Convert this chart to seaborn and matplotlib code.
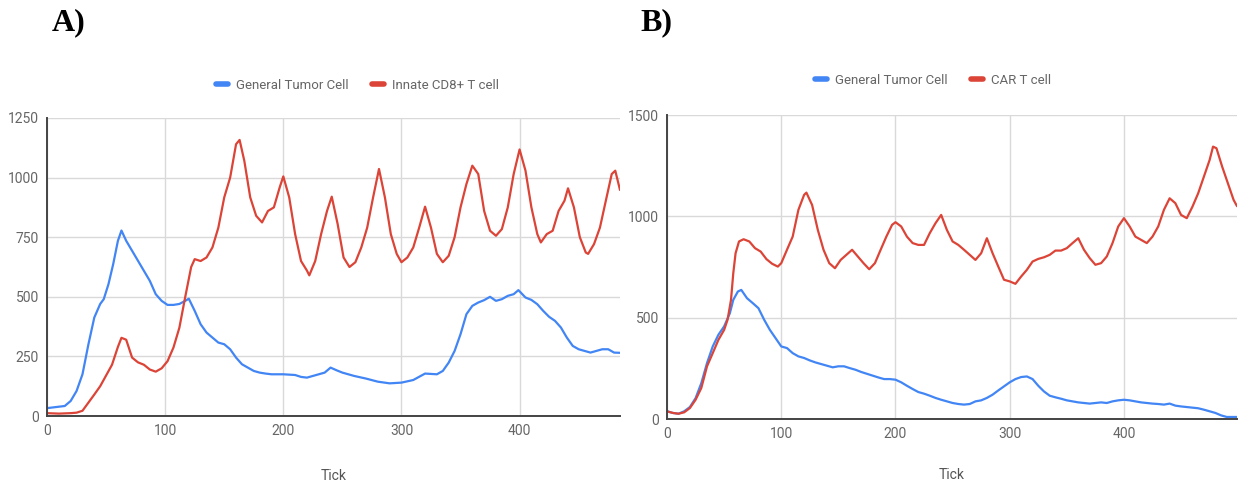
import pandas as pd
import matplotlib
matplotlib.use("Agg")
import matplotlib.pyplot as plt
import seaborn as sns

# -------------------------------
# DATA
# -------------------------------
# Panel A: General Tumor Cell vs Innate CD8+ T cell
a_tumor_tick = [0, 15, 20, 25, 30, 35, 40, 45, 48, 52, 56, 60, 63, 67, 72, 77, 82, 87,
                92, 97, 102, 107, 112, 117, 120, 125, 130, 135, 140, 145, 150, 155,
                160, 165, 170, 175, 180, 185, 190, 200, 210, 215, 220, 225, 230, 235,
                240, 245, 250, 260, 270, 280, 290, 300, 310, 320, 330, 335, 340, 345,
                350, 355, 360, 365, 370, 375, 380, 385, 390, 395, 399, 405, 410, 415,
                420, 425, 430, 435, 440, 445, 450, 455, 460, 465, 470, 475, 480, 485]
a_tumor = [33, 42, 63, 105, 175, 300, 413, 470, 490, 553, 637, 735, 778, 735, 693, 651,
           609, 567, 511, 483, 466, 466, 470, 483, 492, 441, 385, 350, 329, 308, 301, 280,
           245, 217, 203, 189, 182, 178, 175, 175, 172, 164, 161, 168, 175, 182, 203, 192,
           182, 168, 157, 144, 137, 140, 151, 178, 175, 189, 224, 273, 343, 427, 462, 476,
           486, 500, 483, 490, 504, 511, 528, 497, 487, 469, 441, 416, 399, 371, 329, 294,
           280, 273, 266, 273, 280, 280, 266, 265]

a_tcell_tick = [0, 10, 20, 25, 30, 40, 45, 50, 55, 60, 63, 67, 72, 77, 82, 87, 92, 97,
                102, 107, 112, 117, 122, 125, 130, 135, 140, 145, 150, 155, 160, 163,
                167, 172, 177, 182, 187, 192, 197, 200, 205, 210, 215, 220, 222, 227,
                232, 237, 241, 246, 251, 256, 261, 266, 271, 276, 281, 286, 291, 296,
                300, 305, 310, 315, 320, 325, 330, 335, 340, 345, 350, 355, 360, 365,
                370, 375, 380, 385, 390, 395, 400, 405, 410, 415, 418, 423, 428, 433,
                438, 441, 446, 451, 456, 458, 463, 468, 473, 478, 481, 485]
a_tcell = [12, 10, 12, 14, 22, 90, 125, 170, 215, 290, 328, 320, 245, 225, 215, 195, 186,
           200, 230, 287, 370, 500, 625, 658, 650, 665, 707, 790, 917, 1000, 1140, 1158,
           1070, 917, 840, 812, 860, 875, 960, 1005, 917, 763, 650, 610, 590, 650, 763,
           860, 920, 805, 665, 625, 645, 707, 790, 917, 1036, 917, 763, 680, 645, 665, 707,
           790, 878, 790, 680, 645, 672, 750, 875, 973, 1050, 1015, 860, 777, 756, 784, 875,
           1015, 1118, 1029, 875, 763, 728, 763, 777, 860, 903, 955, 875, 750, 686, 680,
           721, 790, 903, 1015, 1029, 948]

# Panel B: General Tumor Cell vs CAR T cell
b_tumor_tick = [0, 5, 10, 15, 20, 25, 30, 35, 40, 45, 50, 55, 58, 62, 65, 70, 75, 80, 85,
                90, 95, 100, 105, 110, 115, 120, 125, 130, 135, 140, 145, 150, 155, 160,
                165, 170, 175, 180, 185, 190, 195, 200, 205, 210, 215, 220, 225, 230,
                235, 240, 245, 250, 255, 260, 265, 270, 275, 280, 285, 290, 295, 300,
                305, 310, 315, 320, 325, 330, 335, 340, 345, 350, 355, 360, 365, 370,
                375, 380, 385, 390, 395, 400, 405, 410, 415, 420, 425, 430, 435, 440,
                445, 450, 455, 460, 465, 470, 475, 480, 485, 490, 495, 499]
b_tumor = [38, 30, 26, 38, 59, 103, 177, 276, 358, 416, 457, 522, 588, 629, 637, 596, 572,
           547, 490, 440, 399, 358, 350, 325, 309, 301, 289, 279, 271, 263, 255, 260, 260,
           251, 243, 232, 223, 214, 205, 197, 197, 194, 181, 164, 148, 133, 125, 115, 104,
           95, 87, 79, 74, 71, 74, 87, 92, 104, 120, 141, 161, 181, 197, 207, 210, 197, 164,
           136, 115, 107, 100, 92, 87, 82, 79, 76, 79, 82, 79, 87, 92, 95, 92, 87, 82, 79,
           76, 74, 71, 76, 66, 62, 59, 56, 53, 46, 38, 30, 18, 10, 10, 10]

b_tcell_tick = [0, 5, 10, 15, 20, 25, 30, 35, 40, 45, 50, 53, 56, 58, 60, 63, 67, 72, 77,
                82, 87, 92, 97, 100, 105, 110, 115, 120, 122, 127, 132, 137, 142, 147,
                152, 157, 162, 167, 172, 177, 182, 187, 192, 197, 200, 205, 210, 215,
                220, 225, 230, 235, 240, 245, 250, 255, 260, 265, 270, 275, 280, 285,
                290, 295, 300, 305, 310, 315, 320, 325, 330, 335, 340, 345, 350, 355,
                360, 365, 370, 375, 380, 385, 390, 395, 400, 405, 410, 415, 420, 425,
                430, 435, 440, 445, 450, 455, 460, 465, 470, 475, 478, 481, 486, 491,
                496, 499]
b_tcell = [38, 30, 26, 33, 54, 95, 153, 260, 325, 391, 440, 490, 588, 720, 818, 876, 887,
           876, 843, 826, 789, 766, 752, 769, 835, 900, 1032, 1106, 1117, 1056, 933, 835,
           769, 744, 785, 810, 835, 802, 769, 739, 769, 835, 900, 958, 971, 950, 900, 868,
           859, 859, 917, 966, 1007, 933, 876, 859, 835, 810, 785, 818, 892, 818, 752, 687,
           679, 667, 703, 736, 777, 790, 798, 810, 831, 831, 843, 868, 892, 835, 794, 761,
           769, 802, 868, 950, 991, 950, 900, 884, 868, 900, 950, 1032, 1089, 1065, 1007,
           991, 1048, 1114, 1196, 1278, 1344, 1336, 1245, 1163, 1081, 1050]

TUMOR_COLOR = "#4285F4"
TCELL_COLOR = "#DB4437"

# -------------------------------
# BUILD TABLES
# -------------------------------
df_a = pd.concat([
    pd.DataFrame({"Tick": a_tumor_tick, "Count": a_tumor, "Cell": "General Tumor Cell"}),
    pd.DataFrame({"Tick": a_tcell_tick, "Count": a_tcell, "Cell": "Innate CD8+ T cell"}),
])
df_b = pd.concat([
    pd.DataFrame({"Tick": b_tumor_tick, "Count": b_tumor, "Cell": "General Tumor Cell"}),
    pd.DataFrame({"Tick": b_tcell_tick, "Count": b_tcell, "Cell": "CAR T cell"}),
])

sns.set_theme(style="whitegrid")
plt.rcParams["font.family"] = ["Roboto", "DejaVu Sans"]

fig = plt.figure(figsize=(12.41, 4.83), dpi=100)
ax_a = fig.add_axes([0.0379, 0.1387, 0.4617, 0.6170])
ax_b = fig.add_axes([0.5375, 0.1325, 0.4593, 0.6294])

# axis, data, hue order, xmax, ymax, ystep, tag, tag x, legend x, legend y, xlabel pad
panels = [
    (ax_a, df_a, ["General Tumor Cell", "Innate CD8+ T cell"], 485, 1250, 250, "A)", 0.042, 0.288, 0.824, 22),
    (ax_b, df_b, ["General Tumor Cell", "CAR T cell"], 499, 1500, 500, "B)", 0.516, 0.752, 0.834, 19),
]

for ax, data, order, xmax, ymax, ystep, tag, tag_x, leg_x, leg_y, xpad in panels:
    sns.lineplot(
        data=data, x="Tick", y="Count", hue="Cell", hue_order=order,
        palette=[TUMOR_COLOR, TCELL_COLOR], linewidth=1.6, ax=ax,
    )
    ax.set_xlim(0, xmax)
    ax.set_ylim(0, ymax)
    ax.set_xticks([0, 100, 200, 300, 400])
    ax.set_yticks(range(0, ymax + 1, ystep))
    ax.grid(True, color="#d9d9d9", linewidth=1.0)
    ax.tick_params(length=0, labelsize=10, labelcolor="#666666", pad=6)
    for s in ["top", "right"]:
        ax.spines[s].set_visible(False)
    for s in ["left", "bottom"]:
        ax.spines[s].set_color("#444444")
        ax.spines[s].set_linewidth(1.4)
    ax.set_ylabel("")
    ax.set_xlabel("Tick", fontsize=10, color="#555555", labelpad=xpad)

    handles, labels = ax.get_legend_handles_labels()
    ax.get_legend().remove()
    for h in handles:
        h.set_linewidth(4)
    fig.legend(handles, labels, loc="center", bbox_to_anchor=(leg_x, leg_y),
               ncol=2, frameon=False, fontsize=9.5, handlelength=0.9,
               columnspacing=1.8, handletextpad=0.6, labelcolor="#666666")

    fig.text(tag_x, 0.953, tag, fontsize=23, fontweight="bold", color="black",
             family="Liberation Serif", va="center", ha="left")

plt.savefig("out.png", dpi=100)
plt.close()
